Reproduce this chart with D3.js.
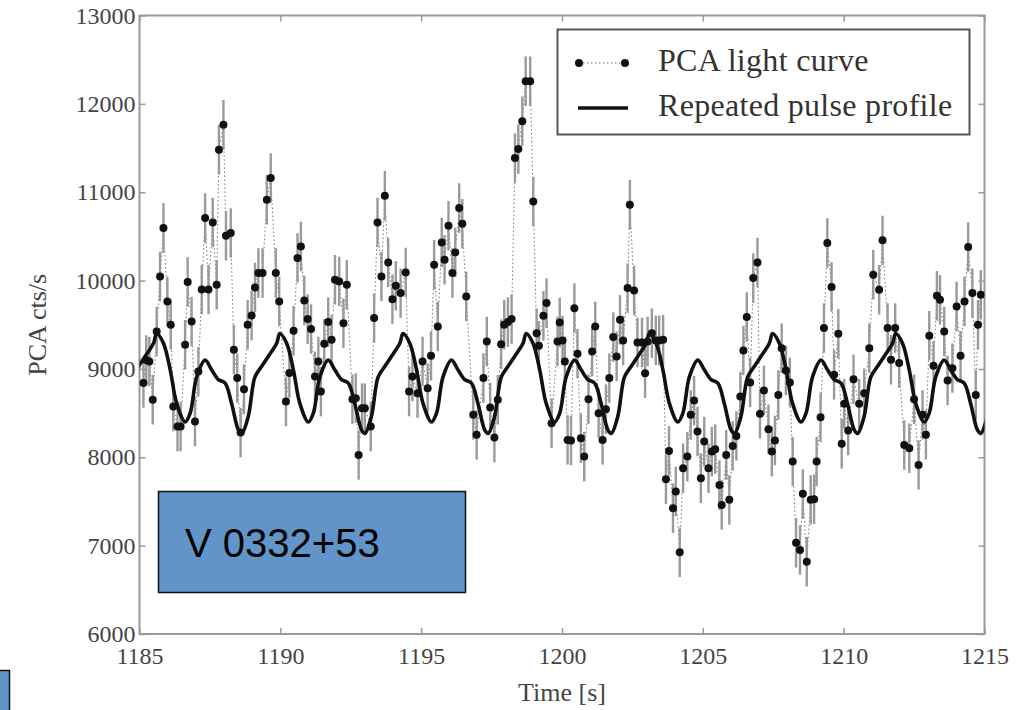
<!DOCTYPE html>
<html><head><meta charset="utf-8">
<script src="https://cdn.jsdelivr.net/npm/d3@7"></script>
<style>body{margin:0;background:#fff;} svg{display:block}</style>
</head><body><svg id="c" width="1032" height="710"></svg>
<script>
// ---- PCA light curve (time [s], rate [cts/s]) ----
const times = [
1185.14,1185.24,1185.35,1185.47,1185.61,1185.73,1185.85,1185.99,1186.11,1186.20,
1186.35,1186.46,1186.62,1186.71,1186.85,1186.97,1187.09,1187.21,1187.33,1187.45,
1187.60,1187.74,1187.82,1187.98,1188.07,1188.24,1188.35,1188.47,1188.59,1188.71,
1188.84,1188.98,1189.10,1189.22,1189.37,1189.52,1189.66,1189.84,1189.96,1190.20,
1190.32,1190.47,1190.61,1190.73,1190.85,1190.97,1191.09,1191.23,1191.35,1191.44,
1191.56,1191.70,1191.82,1191.94,1192.09,1192.24,1192.36,1192.56,1192.68,1192.78,
1192.90,1193.00,1193.21,1193.33,1193.45,1193.59,1193.71,1193.83,1193.98,1194.10,
1194.27,1194.45,1194.57,1194.69,1194.87,1195.05,1195.23,1195.35,1195.46,1195.59,
1195.73,1195.83,1195.97,1196.11,1196.21,1196.35,1196.46,1196.60,1196.85,1196.97,
1197.21,1197.33,1197.45,1197.60,1197.72,1197.84,1197.95,1198.08,1198.21,1198.33,
1198.45,1198.59,1198.71,1198.87,1198.98,1199.10,1199.18,1199.34,1199.45,1199.63,
1199.84,1199.92,1200.02,1200.10,1200.20,1200.32,1200.44,1200.55,1200.67,1200.79,
1200.94,1201.07,1201.18,1201.30,1201.44,1201.56,1201.68,1201.82,1201.94,1202.06,
1202.17,1202.33,1202.41,1202.56,1202.68,1202.84,1202.95,1203.04,1203.19,1203.33,
1203.45,1203.59,1203.69,1203.80,1203.94,1204.04,1204.18,1204.30,1204.45,1204.57,
1204.69,1204.81,1204.93,1205.05,1205.20,1205.32,1205.44,1205.59,1205.67,1205.83,
1205.94,1206.06,1206.19,1206.33,1206.44,1206.56,1206.68,1206.79,1206.94,1207.03,
1207.17,1207.33,1207.45,1207.56,1207.68,1207.80,1207.95,1208.09,1208.19,1208.31,
1208.45,1208.55,1208.69,1208.83,1208.95,1209.04,1209.18,1209.30,1209.42,1209.57,
1209.66,1209.81,1209.93,1210.02,1210.16,1210.35,1210.55,1210.73,1210.91,1211.05,
1211.26,1211.38,1211.56,1211.68,1211.83,1211.97,1212.15,1212.33,1212.50,1212.66,
1212.80,1212.92,1213.04,1213.19,1213.31,1213.42,1213.57,1213.69,1213.86,1214.01,
1214.15,1214.29,1214.42,1214.57,1214.69,1214.77,1214.87
];
const rates = [
8842,9100,9085,8650,9424,10047,10594,9763,9500,8574,
8348,8348,9273,9983,9537,8404,8970,9900,10708,9900,
10658,9952,11481,11764,10507,10538,9216,8896,8280,8771,
9500,9605,9922,10085,10085,10915,11160,10085,9763,8630,
8953,9431,10255,10386,9775,9564,9451,8914,9084,8744,
9284,9530,9330,10009,9990,9518,9952,8658,8669,8027,
8556,8556,8348,9575,10658,10047,10960,10205,9790,9941,
9858,10092,8744,8914,8726,9084,8782,9148,10179,9480,
10431,10236,10621,10085,10318,10821,10643,9820,8480,8254,
8896,9311,8563,8223,8650,9280,9500,9530,9564,11387,
11489,11802,12255,12255,10896,9405,9262,9601,9745,8386,
9311,9526,9322,9084,8197,8189,9688,9171,8216,8008,
8658,9197,9480,8499,8197,8544,8896,9360,9141,9556,
9322,9915,10858,9888,9299,9299,8952,9311,9405,9322,
9322,9330,7752,8072,7424,7612,6925,7877,8008,8480,
8642,8291,7763,8178,7877,8065,8092,7687,7461,8027,
7518,8129,8242,8688,9209,9587,8846,10028,10205,8492,
8755,8318,8065,8189,8706,9235,8982,8846,7951,7034,
6951,7586,6819,7518,7525,7951,8454,9462,10425,9926,
8933,9398,8152,8605,8302,8884,8605,8726,9235,10066,
9896,10455,9462,9103,9462,9066,8140,8103,8658,7914,
8480,8254,9375,9035,9828,9782,9424,8869,9009,9707,
9148,9763,10379,9858,8706,9500,9839
];
const rateErr = 280;

// ---- pulse profile: one period, offsets from the main peak [s] ----
const profileOffset = [0,0.24,0.48,0.71,1.01,1.19,1.42,1.72,1.95,2.19,2.43,2.66,2.90,3.02,3.25,3.49,3.73,3.96,4.26];
const profileRate   = [9400,9290,8990,8610,8400,8500,8910,9100,8990,8880,8840,8610,8310,8270,8460,8910,9030,9140,9290];
const pulsePeriod = 4.373;
const pulseEpoch = 1185.61;

const xTicks = [1185,1190,1195,1200,1205,1210,1215];
const yTicks = [6000,7000,8000,9000,10000,11000,12000,13000];
const legendLabels = ["PCA light curve","Repeated pulse profile"];
const sourceLabel = "V 0332+53";
const xTitle = "Time [s]";
const yTitle = "PCA cts/s";

// ---- layout ----
const L = 139.5, R = 984.5, T = 15.5, B = 634;
const svg = d3.select("#c");
const x = d3.scaleLinear().domain([1185,1215]).range([L,R]);
const y = d3.scaleLinear().domain([6000,13000]).range([B,T]);
const serif = "Liberation Serif, DejaVu Serif, serif";
const frameCol = "#999";

svg.append("defs").append("clipPath").attr("id","clip")
  .append("rect").attr("x",L).attr("y",T).attr("width",R-L).attr("height",B-T);

// axes (inward ticks, mirrored)
function styleAxis(g){
  g.attr("font-family",null).attr("font-size",null);
  g.select(".domain").remove();
  g.selectAll(".tick line").attr("stroke",frameCol).attr("stroke-width",1.5);
  g.selectAll(".tick text").attr("fill","#444").attr("font-family",serif).attr("font-size",24);
}
svg.append("g").attr("transform",`translate(0,${B})`)
  .call(d3.axisBottom(x).tickValues(xTicks).tickFormat(d3.format("d")).tickSize(-6).tickPadding(13)).call(styleAxis);
svg.append("g").attr("transform",`translate(0,${T})`)
  .call(d3.axisTop(x).tickValues(xTicks).tickFormat("").tickSize(-6)).call(styleAxis);
svg.append("g").attr("transform",`translate(${L},0)`)
  .call(d3.axisLeft(y).tickValues(yTicks).tickFormat(d3.format("d")).tickSize(-6).tickPadding(4)).call(styleAxis);
svg.append("g").attr("transform",`translate(${R},0)`)
  .call(d3.axisRight(y).tickValues(yTicks).tickFormat("").tickSize(-6)).call(styleAxis);

svg.append("rect").attr("x",L).attr("y",T).attr("width",R-L).attr("height",B-T)
  .attr("fill","none").attr("stroke",frameCol).attr("stroke-width",2);

// axis titles
svg.append("text").attr("x",(L+R)/2).attr("y",701).attr("text-anchor","middle")
  .attr("fill","#444").attr("font-family",serif).attr("font-size",26).text(xTitle);
svg.append("text").attr("transform",`translate(46,${(T+B)/2}) rotate(-90)`).attr("text-anchor","middle")
  .attr("fill","#444").attr("font-family",serif).attr("font-size",26).text(yTitle);

const pts = times.map((t,i)=>({t, r:rates[i]}));
const plot = svg.append("g").attr("clip-path","url(#clip)");

// dotted connecting line
plot.append("path").datum(pts)
  .attr("d", d3.line().x(d=>x(d.t)).y(d=>y(d.r)))
  .attr("fill","none").attr("stroke","#777").attr("stroke-width",1).attr("stroke-dasharray","1.5,2.5");

// error bars
plot.selectAll("line.err").data(pts).join("line").attr("class","err")
  .attr("x1",d=>x(d.t)).attr("x2",d=>x(d.t))
  .attr("y1",d=>y(d.r-rateErr)).attr("y2",d=>y(d.r+rateErr))
  .attr("stroke","#9a9a9a").attr("stroke-width",2.4);

// markers
plot.selectAll("circle.pt").data(pts).join("circle").attr("class","pt")
  .attr("cx",d=>x(d.t)).attr("cy",d=>y(d.r)).attr("r",4).attr("fill","#111");

// repeated pulse profile
const prof = [];
for (let k=-1;k<=7;k++){
  profileOffset.forEach((o,i)=>{
    const t = pulseEpoch + k*pulsePeriod + o;
    if (t>1184.3 && t<1215.8) prof.push({t, r:profileRate[i]});
  });
}
plot.append("path").datum(prof)
  .attr("d", d3.line().x(d=>x(d.t)).y(d=>y(d.r)).curve(d3.curveCatmullRom.alpha(0.5)))
  .attr("fill","none").attr("stroke","#111").attr("stroke-width",3.6).attr("stroke-linejoin","round");

// legend
const lg = svg.append("g");
lg.append("rect").attr("x",557.5).attr("y",29.5).attr("width",412).attr("height",105)
  .attr("fill","#fff").attr("stroke","#555").attr("stroke-width",2);
lg.append("line").attr("x1",579).attr("x2",625).attr("y1",63).attr("y2",63)
  .attr("stroke","#777").attr("stroke-width",1).attr("stroke-dasharray","1.5,2.5");
[579,625].forEach(cx=>lg.append("circle").attr("cx",cx).attr("cy",63).attr("r",4).attr("fill","#111"));
lg.append("line").attr("x1",578).attr("x2",628).attr("y1",108).attr("y2",108)
  .attr("stroke","#111").attr("stroke-width",3.6);
legendLabels.forEach((s,i)=>{
  lg.append("text").attr("x",658).attr("y",71+i*45).attr("fill","#333")
    .attr("font-family",serif).attr("font-size",32).attr("letter-spacing",0.3).text(s);
});

// source label box
svg.append("rect").attr("x",158.5).attr("y",491.5).attr("width",307).attr("height",101)
  .attr("fill","#6195c9").attr("stroke","#111").attr("stroke-width",1.5);
svg.append("text").attr("x",185).attr("y",557).attr("fill","#000")
  .attr("font-family","Liberation Sans, Arial, sans-serif").attr("font-size",40).text(sourceLabel);

// partial box at lower left corner
svg.append("rect").attr("x",-20).attr("y",670.5).attr("width",29.5).attr("height",60)
  .attr("fill","#6195c9").attr("stroke","#111").attr("stroke-width",1.5);
</script>
</body></html>
